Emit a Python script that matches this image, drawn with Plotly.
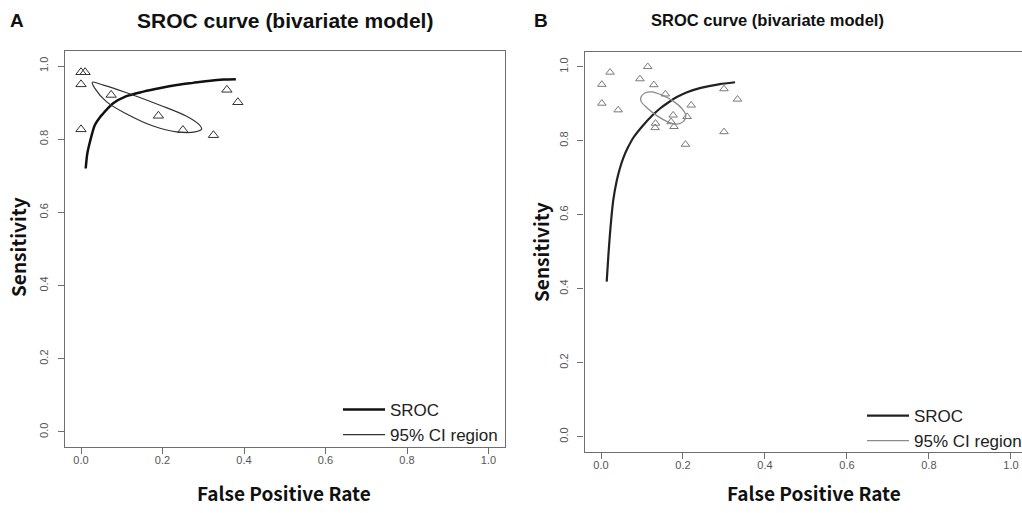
import plotly.graph_objects as go

W, H = 1022, 513

# ---------------- Panel A data ----------------
a_fpr = [0.000, 0.010, 0.000, 0.074, 0.190, 0.250, 0.000, 0.325, 0.358, 0.385]
a_sens = [0.983, 0.983, 0.950, 0.921, 0.864, 0.825, 0.827, 0.811, 0.935, 0.901]

a_sroc_x = [0.0115, 0.0155, 0.022, 0.034, 0.047, 0.055, 0.079, 0.110, 0.153, 0.195, 0.235, 0.275, 0.317, 0.350, 0.380]
a_sroc_y = [0.720, 0.761, 0.793, 0.839, 0.861, 0.871, 0.898, 0.917, 0.930, 0.940, 0.948, 0.954, 0.960, 0.963, 0.964]

a_ell_x = [0.0277, 0.0547, 0.112, 0.194, 0.259, 0.288, 0.296, 0.280, 0.235, 0.177, 0.112, 0.063, 0.034, 0.0277]
a_ell_y = [0.9555, 0.948, 0.927, 0.893, 0.863, 0.842, 0.828, 0.820, 0.820, 0.836, 0.869, 0.902, 0.939, 0.9555]

# ---------------- Panel B data ----------------
b_fpr = [0.002, 0.002, 0.022, 0.042, 0.095, 0.114, 0.129, 0.157, 0.220, 0.176,
         0.210, 0.171, 0.133, 0.132, 0.178, 0.206, 0.300, 0.333, 0.300]
b_sens = [0.952, 0.901, 0.985, 0.883, 0.967, 1.000, 0.951, 0.926, 0.896, 0.869,
          0.865, 0.851, 0.847, 0.835, 0.838, 0.790, 0.940, 0.912, 0.824]

b_sroc_x = [0.0139, 0.018, 0.022, 0.026, 0.030, 0.038, 0.046, 0.055, 0.065, 0.080, 0.103,
            0.125, 0.144, 0.165, 0.185, 0.210, 0.241, 0.270, 0.290, 0.327]
b_sroc_y = [0.419, 0.490, 0.550, 0.600, 0.640, 0.690, 0.725, 0.755, 0.780, 0.810, 0.842,
            0.868, 0.887, 0.904, 0.918, 0.931, 0.942, 0.949, 0.953, 0.958]

b_ell_x = [0.0976, 0.107, 0.124, 0.149, 0.176, 0.198, 0.207, 0.202, 0.185, 0.163, 0.137, 0.112, 0.0976, 0.0976]
b_ell_y = [0.918, 0.929, 0.932, 0.923, 0.907, 0.886, 0.867, 0.853, 0.845, 0.851, 0.867, 0.889, 0.907, 0.918]

tick_vals = [0.0, 0.2, 0.4, 0.6, 0.8, 1.0]
tick_text = ["0.0", "0.2", "0.4", "0.6", "0.8", "1.0"]

panel_letters = ["A", "B"]
panel_title = "SROC curve (bivariate model)"
x_title = "False Positive Rate"
y_title = "Sensitivity"
legend_names = ["SROC", "95% CI region"]

fig = go.Figure()

# Panel A traces
fig.add_trace(go.Scatter(x=a_fpr, y=a_sens, mode="markers", showlegend=False,
                         marker=dict(symbol="triangle-up-open", size=9, color="#333333", line=dict(width=1)),
                         xaxis="x", yaxis="y"))
fig.add_trace(go.Scatter(x=a_sroc_x, y=a_sroc_y, mode="lines", name=legend_names[0],
                         line=dict(color="#111111", width=2.5, shape="spline", smoothing=0.8),
                         xaxis="x", yaxis="y", legend="legend"))
fig.add_trace(go.Scatter(x=a_ell_x, y=a_ell_y, mode="lines", name=legend_names[1],
                         line=dict(color="#333333", width=1.2, shape="spline", smoothing=1.0),
                         xaxis="x", yaxis="y", legend="legend"))

# Panel B traces
fig.add_trace(go.Scatter(x=b_fpr, y=b_sens, mode="markers", showlegend=False,
                         marker=dict(symbol="triangle-up-open", size=7.5, color="#7a7a7a", line=dict(width=1)),
                         xaxis="x2", yaxis="y2"))
fig.add_trace(go.Scatter(x=b_sroc_x, y=b_sroc_y, mode="lines", name=legend_names[0],
                         line=dict(color="#222222", width=2.2, shape="spline", smoothing=0.6),
                         xaxis="x2", yaxis="y2", legend="legend2"))
fig.add_trace(go.Scatter(x=b_ell_x, y=b_ell_y, mode="lines", name=legend_names[1],
                         line=dict(color="#8a8a8a", width=1.3, shape="spline", smoothing=1.0),
                         xaxis="x2", yaxis="y2", legend="legend2"))

tickfont = dict(family="Liberation Sans, Arial", size=11, color="#555555")
axis_common = dict(showgrid=False, zeroline=False, showline=True, linecolor="#6e6e6e", linewidth=1.3,
                   ticks="outside", ticklen=6, tickcolor="#6e6e6e", tickwidth=1.2,
                   tickvals=tick_vals, ticktext=tick_text, tickfont=tickfont)

def px_x(p):
    return p / W

def px_y(p):
    return 1 - p / H

leg_font = dict(family="Liberation Sans, Arial", size=17, color="#222222")

fig.update_layout(
    width=W, height=H,
    margin=dict(l=0, r=0, t=0, b=0, autoexpand=False),
    paper_bgcolor="white", plot_bgcolor="white",
    xaxis=dict(domain=[px_x(64.7), px_x(504.8)], range=[-0.04, 1.04], mirror=True, anchor="y",
               ticklabelstandoff=-3, **axis_common),
    yaxis=dict(domain=[px_y(446.6), px_y(51.4)], range=[-0.04, 1.04], mirror=True, anchor="x",
               tickangle=-90, ticklabelstandoff=5, **axis_common),
    xaxis2=dict(domain=[px_x(584.6), 1.0], range=[-0.04, 1.027], mirror=True, anchor="y2",
                ticklabelstandoff=-3, **axis_common),
    yaxis2=dict(domain=[px_y(451.5), px_y(51.9)], range=[-0.04, 1.04], mirror=False, anchor="x2",
                tickangle=-90, ticklabelstandoff=5, **axis_common),
    legend=dict(x=px_x(338), y=px_y(392), xanchor="left", yanchor="top",
                bgcolor="rgba(0,0,0,0)", font=leg_font, itemwidth=42, tracegroupgap=0),
    legend2=dict(x=px_x(862), y=px_y(398), xanchor="left", yanchor="top",
                 bgcolor="rgba(0,0,0,0)", font=leg_font, itemwidth=42, tracegroupgap=0),
)

ann = []
title_font_a = dict(family="Liberation Sans, Arial", size=21, color="#111111")
title_font_b = dict(family="Liberation Sans, Arial", size=16.5, color="#111111")
letter_font = dict(family="Liberation Sans, Arial", size=19, color="#111111")
for letter, lx, tx, tf in [(panel_letters[0], 17, 285, title_font_a), (panel_letters[1], 541, 767, title_font_b)]:
    ann.append(dict(text="<b>%s</b>" % letter, x=px_x(lx), y=px_y(20), xref="paper", yref="paper",
                    xanchor="center", yanchor="middle", showarrow=False, font=letter_font))
    ann.append(dict(text="<b>%s</b>" % panel_title, x=px_x(tx), y=px_y(20), xref="paper", yref="paper",
                    xanchor="center", yanchor="middle", showarrow=False, font=tf))

lab_font = dict(family="Noto Sans CJK KR, Noto Sans", size=19, color="#111111")
for xx, yy in [(284, 492), (814, 492)]:
    ann.append(dict(text="<b>%s</b>" % x_title, x=px_x(xx), y=px_y(yy), xref="paper", yref="paper",
                    xanchor="center", yanchor="middle", showarrow=False, font=lab_font))
for xx, yy in [(18, 247), (540, 252)]:
    ann.append(dict(text="<b>%s</b>" % y_title, x=px_x(xx), y=px_y(yy), xref="paper", yref="paper",
                    xanchor="center", yanchor="middle", showarrow=False, font=lab_font, textangle=-90))
fig.update_layout(annotations=ann)

fig.write_html("out.html")
